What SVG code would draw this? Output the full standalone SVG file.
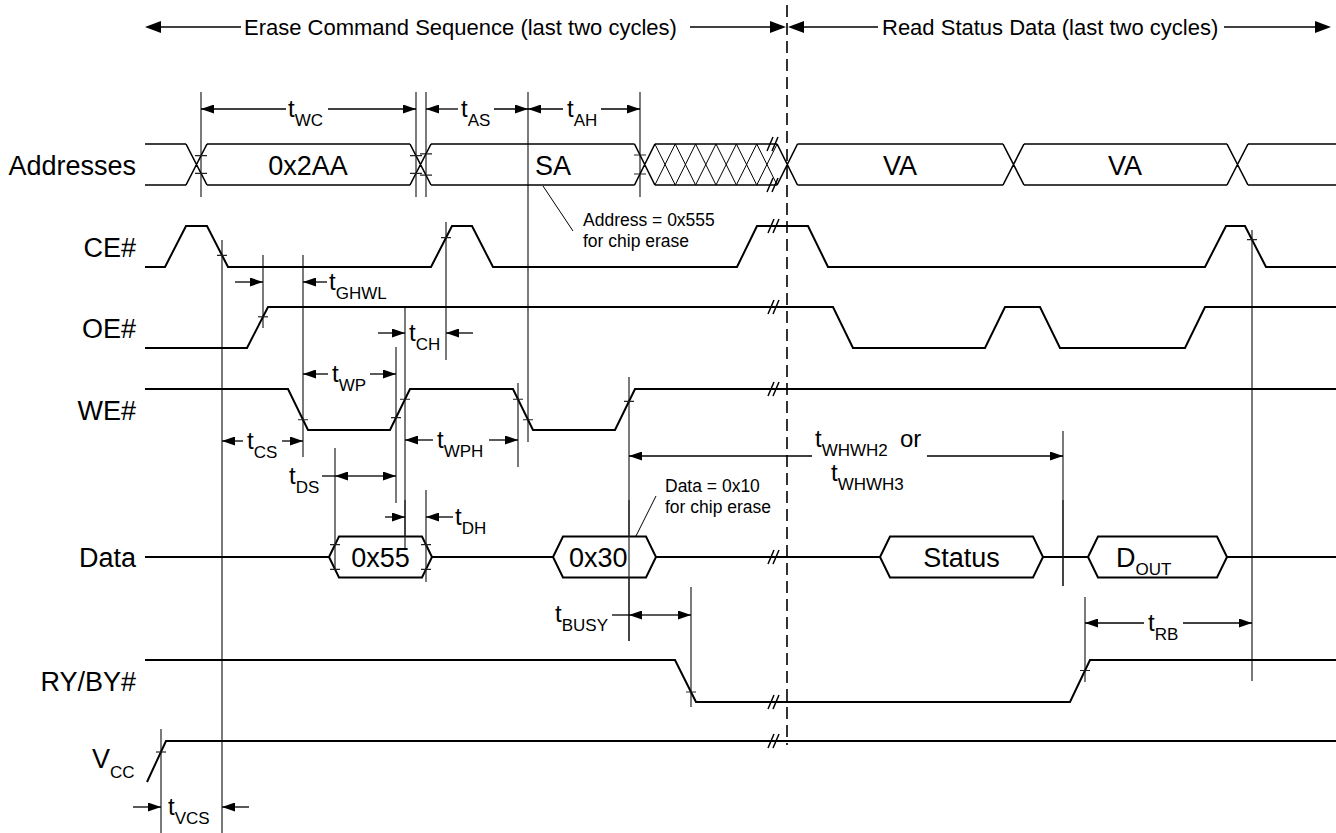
<svg xmlns="http://www.w3.org/2000/svg" width="1336" height="833" viewBox="0 0 1336 833">
<style>
text{font-family:"Liberation Sans",Arial,sans-serif;fill:#000}
.lbl{font-size:27px;text-anchor:end}
.val{font-size:27px}
.top{font-size:22px}
.t{font-size:24px}
.s{font-size:17px}
.note{font-size:17.5px}
.sig{fill:none;stroke:#000;stroke-width:2;stroke-linejoin:miter}
.bus{fill:none;stroke:#000;stroke-width:1.6}
.hatch{fill:none;stroke:#000;stroke-width:1}
.hex{fill:#fff;stroke:#000;stroke-width:2}
.ref{stroke:#222;stroke-width:1.2;fill:none}
.tick{stroke:#222;stroke-width:1.2}
.arr{stroke:#000;stroke-width:1.3;fill:none;marker-end:url(#ah)}
.lin{stroke:#000;stroke-width:1.3;fill:none}
.brk{stroke:#000;stroke-width:1.5}
.dash{stroke:#000;stroke-width:1.6;stroke-dasharray:12 6}
</style>
<defs>
<marker id="ah" markerUnits="userSpaceOnUse" markerWidth="13" markerHeight="9" refX="13" refY="4.5" orient="auto"><path d="M0,0 L13,4.5 L0,9 z" fill="#000"/></marker>
</defs>
<rect width="1336" height="833" fill="#fff"/>

<!-- top sequence arrows -->
<g id="sequence-header">
<line class="lin" x1="150" y1="27" x2="241" y2="27" style="stroke-width:1.5"/>
<polygon points="145,27 161,21 161,33" fill="#000"/>
<text class="top" x="244" y="35">Erase Command Sequence (last two cycles)</text>
<line class="lin" x1="690" y1="27" x2="780" y2="27" style="stroke-width:1.5"/>
<polygon points="786,27 770,21 770,33" fill="#000"/>
<polygon points="788,27 804,21 804,33" fill="#000"/>
<line class="lin" x1="800" y1="27" x2="878" y2="27" style="stroke-width:1.5"/>
<text class="top" x="882" y="35">Read Status Data (last two cycles)</text>
<line class="lin" x1="1224" y1="27" x2="1325" y2="27" style="stroke-width:1.5"/>
<polygon points="1331,27 1315,21 1315,33" fill="#000"/>
</g>

<!-- reference (timing) lines -->
<g id="reference-lines">
<line class="ref" x1="201" y1="92" x2="201" y2="197"/>
<line class="ref" x1="416" y1="92" x2="416" y2="197"/>
<line class="ref" x1="426" y1="92" x2="426" y2="197"/>
<line class="ref" x1="528" y1="92" x2="528" y2="442"/>
<line class="ref" x1="640" y1="92" x2="640" y2="197"/>
<line class="ref" x1="222" y1="240" x2="222" y2="833"/>
<line class="ref" x1="263" y1="255" x2="263" y2="328"/>
<line class="ref" x1="303" y1="255" x2="303" y2="457"/>
<line class="ref" x1="446" y1="222" x2="446" y2="360"/>
<line class="ref" x1="405" y1="306" x2="405" y2="548"/>
<line class="ref" x1="396" y1="347" x2="396" y2="503"/>
<line class="ref" x1="518" y1="383" x2="518" y2="467"/>
<line class="ref" x1="629" y1="377" x2="629" y2="641"/>
<line class="ref" x1="1063" y1="431" x2="1063" y2="586"/>
<line class="ref" x1="1252" y1="230" x2="1252" y2="681"/>
<line class="ref" x1="691" y1="587" x2="691" y2="707"/>
<line class="ref" x1="1085" y1="597" x2="1085" y2="682"/>
<line class="ref" x1="161" y1="729" x2="161" y2="833"/>
<line class="dash" x1="787" y1="5" x2="787" y2="745"/>
</g>

<!-- Addresses -->
<g id="addresses">
<text class="lbl" x="136" y="175">Addresses</text>
<path class="bus" d="M145,144 H186 M145,185 H186 M186,144 L207,185 M186,185 L207,144 M207,144 H410 M207,185 H410 M410,144 L431,185 M410,185 L431,144 M431,144 H634.5 M431,185 H634.5 M634.5,144 L654.9,185 M634.5,185 L654.9,144 M654.9,144 H777.1 M654.9,185 H777.1 M777.1,144 L797.5,185 M777.1,185 L797.5,144 M797.5,144 H1003 M797.5,185 H1003 M1003,144 L1024,185 M1003,185 L1024,144 M1024,144 H1227 M1024,185 H1227 M1227,144 L1248,185 M1227,185 L1248,144 M1248,144 H1336 M1248,185 H1336"/>
<path class="hatch" d="M654.9,185 L675.25,144 L695.6,185 L716,144 L736.4,185 L756.75,144 L777.1,185 M654.9,144 L675.25,185 L695.6,144 L716,185 L736.4,144 L756.75,185 L777.1,144"/>
<text class="val" x="308" y="175" text-anchor="middle">0x2AA</text>
<text class="val" x="535" y="175">SA</text>
<text class="val" x="900" y="175" text-anchor="middle">VA</text>
<text class="val" x="1125" y="175" text-anchor="middle">VA</text>
<path class="brk" d="M767,151 L773,137 M772,151 L778,137 M767,192 L773,178 M772,192 L778,178"/>
<path class="tick" d="M195,155.7 H207 M195,173.3 H207 M410,155.7 H422 M410,173.3 H422 M420,153.8 H432 M420,175.2 H432 M634,155 H646 M634,174 H646"/>
<line class="lin" x1="543" y1="186" x2="573" y2="231" style="stroke-width:1"/>
<text class="note" x="583" y="226">Address = 0x555</text>
<text class="note" x="583" y="247">for chip erase</text>
</g>

<!-- CE# -->
<g id="ce">
<text class="lbl" x="136" y="257">CE#</text>
<path class="sig" d="M145,267 H165 L186,226 H207 L228,267 H431 L452,226 H472 L493,267 H737 L757,226 H808 L828,267 H1205 L1226,226 H1245 L1266,267 H1336"/>
<path class="brk" d="M768,233 L774,219 M773,233 L779,219"/>
<path class="tick" d="M217,255.3 H227 M441,237.7 H451 M1247,239.7 H1257"/>
</g>

<!-- OE# -->
<g id="oe">
<text class="lbl" x="136" y="338">OE#</text>
<path class="sig" d="M145,348 H247 L268,307 H833 L853,348 H985 L1005,307 H1040 L1060,348 H1185 L1205,307 H1336"/>
<path class="brk" d="M768,314 L774,300 M773,314 L779,300"/>
<path class="tick" d="M258,316.8 H268"/>
</g>

<!-- WE# -->
<g id="we">
<text class="lbl" x="136" y="420">WE#</text>
<path class="sig" d="M145,389 H288 L308,430 H390 L410,389 H513 L533,430 H615 L635,389 H1336"/>
<path class="brk" d="M768,396 L774,382 M773,396 L779,382"/>
<path class="tick" d="M298,419.75 H308 M391,417.7 H401 M400,399.25 H410 M513,399.25 H523 M523,419.75 H533 M624,401.3 H634"/>
</g>

<!-- Data -->
<g id="data">
<text class="lbl" x="136" y="567">Data</text>
<path class="sig" d="M145,557 H329 M432,557 H553 M656,557 H880 M1043,557 H1088 M1227,557 H1336"/>
<polygon class="hex" points="329,557 339,536.5 422,536.5 432,557 422,577.5 339,577.5"/>
<polygon class="hex" points="553,557 563,536.5 646,536.5 656,557 646,577.5 563,577.5"/>
<polygon class="hex" points="880,557 890,536.5 1033,536.5 1043,557 1033,577.5 890,577.5"/>
<polygon class="hex" points="1088,557 1098,536.5 1217,536.5 1227,557 1217,577.5 1098,577.5"/>
<text class="val" x="380.5" y="567" text-anchor="middle">0x55</text>
<text class="val" x="569" y="567">0x30</text>
<text class="val" x="961.5" y="567" text-anchor="middle">Status</text>
<text class="val" x="1116" y="567">D<tspan class="s" dy="8">OUT</tspan></text>
<path class="brk" d="M768,564 L774,550 M773,564 L779,550"/>
<path class="tick" d="M330,544.7 H340 M330,569.3 H340 M421,544.7 H431 M421,569.3 H431"/>
<line class="ref" x1="335" y1="448" x2="335" y2="568"/>
<line class="ref" x1="405" y1="500" x2="405" y2="548"/>
<line class="ref" x1="426" y1="490" x2="426" y2="582"/>
<line class="ref" x1="629" y1="500" x2="629" y2="641"/>
<line class="ref" x1="1063" y1="500" x2="1063" y2="586"/>
<line class="lin" x1="636" y1="536" x2="656" y2="496" style="stroke-width:1"/>
<text class="note" x="665" y="492">Data = 0x10</text>
<text class="note" x="665" y="513">for chip erase</text>
</g>

<!-- RY/BY# -->
<g id="ryby">
<text class="lbl" x="136" y="691">RY/BY#</text>
<path class="sig" d="M145,660 H675 L696,702 H1070 L1090,660 H1336"/>
<path class="brk" d="M768,709 L774,695 M773,709 L779,695"/>
<path class="tick" d="M686,692 H696 M1080,670.5 H1090"/>
</g>

<!-- VCC -->
<g id="vcc">
<text class="val" x="92" y="768">V<tspan class="s" dy="10">CC</tspan></text>
<path class="sig" d="M147,782 L166,741 H1336"/>
<path class="brk" d="M768,748 L774,734 M773,748 L779,734"/>
<path class="tick" d="M156,752 H166"/>
</g>

<!-- timing parameters -->
<g id="timing-arrows">
<line class="arr" x1="286" y1="109" x2="201" y2="109"/>
<line class="arr" x1="328" y1="109" x2="416" y2="109"/>
<text class="t" x="288" y="117">t<tspan class="s" dy="9">WC</tspan></text>
<line class="arr" x1="458" y1="109" x2="426" y2="109"/>
<line class="arr" x1="494" y1="109" x2="528" y2="109"/>
<text class="t" x="461" y="117">t<tspan class="s" dy="9">AS</tspan></text>
<line class="arr" x1="563" y1="109" x2="528" y2="109"/>
<line class="arr" x1="601" y1="109" x2="640" y2="109"/>
<text class="t" x="567" y="117">t<tspan class="s" dy="9">AH</tspan></text>

<line class="arr" x1="235" y1="282" x2="263" y2="282"/>
<line class="arr" x1="327" y1="282" x2="303" y2="282"/>
<text class="t" x="329" y="290">t<tspan class="s" dy="9">GHWL</tspan></text>

<line class="arr" x1="378" y1="333" x2="405" y2="333"/>
<line class="arr" x1="473" y1="333" x2="446" y2="333"/>
<text class="t" x="409" y="341">t<tspan class="s" dy="9">CH</tspan></text>

<line class="arr" x1="328" y1="374" x2="303" y2="374"/>
<line class="arr" x1="370" y1="374" x2="396" y2="374"/>
<text class="t" x="332" y="382">t<tspan class="s" dy="9">WP</tspan></text>

<line class="arr" x1="243" y1="441" x2="222" y2="441"/>
<line class="arr" x1="282" y1="441" x2="303" y2="441"/>
<text class="t" x="247" y="449">t<tspan class="s" dy="9">CS</tspan></text>

<line class="arr" x1="433" y1="440" x2="405" y2="440"/>
<line class="arr" x1="489" y1="440" x2="518" y2="440"/>
<text class="t" x="437" y="448">t<tspan class="s" dy="9">WPH</tspan></text>

<line class="lin" x1="322" y1="476" x2="335" y2="476"/>
<line class="arr" x1="366" y1="476" x2="335" y2="476"/>
<line class="arr" x1="366" y1="476" x2="396" y2="476"/>
<text class="t" x="289" y="484">t<tspan class="s" dy="9">DS</tspan></text>

<line class="arr" x1="385" y1="517" x2="405" y2="517"/>
<line class="arr" x1="453" y1="517" x2="426" y2="517"/>
<text class="t" x="455" y="525">t<tspan class="s" dy="9">DH</tspan></text>

<line class="arr" x1="812" y1="456" x2="629" y2="456"/>
<line class="arr" x1="927" y1="456" x2="1063" y2="456"/>
<text class="t" x="815" y="447">t<tspan class="s" dy="9">WHWH2</tspan><tspan x="900" dy="-9">or</tspan></text>
<text class="t" x="831" y="481">t<tspan class="s" dy="9">WHWH3</tspan></text>

<line class="lin" x1="612" y1="615" x2="629" y2="615"/>
<line class="arr" x1="660" y1="615" x2="629" y2="615"/>
<line class="arr" x1="660" y1="615" x2="691" y2="615"/>
<text class="t" x="555" y="622">t<tspan class="s" dy="9">BUSY</tspan></text>

<line class="arr" x1="1144" y1="623" x2="1085" y2="623"/>
<line class="arr" x1="1183" y1="623" x2="1252" y2="623"/>
<text class="t" x="1148" y="631">t<tspan class="s" dy="9">RB</tspan></text>

<line class="arr" x1="133" y1="807" x2="161" y2="807"/>
<line class="arr" x1="249" y1="807" x2="222" y2="807"/>
<text class="t" x="168" y="815">t<tspan class="s" dy="9">VCS</tspan></text>
</g>
</svg>
